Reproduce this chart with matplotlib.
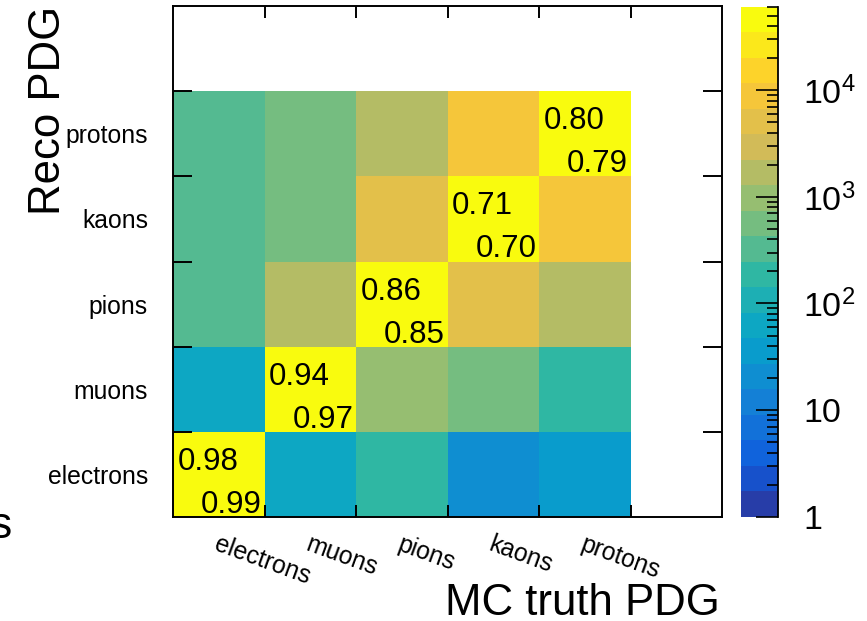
import numpy as np
import matplotlib
matplotlib.use('Agg')
import matplotlib.pyplot as plt
import matplotlib.transforms as mtransforms
from matplotlib.colors import LinearSegmentedColormap, ListedColormap, BoundaryNorm
from matplotlib.ticker import FixedLocator, FixedFormatter, LogLocator, NullFormatter

plt.rcParams['font.family'] = 'Liberation Sans'
plt.rcParams['mathtext.fontset'] = 'custom'
plt.rcParams['mathtext.rm'] = 'Liberation Sans'
plt.rcParams['mathtext.it'] = 'Liberation Sans:italic'

# particle species, rows = reco, columns = MC truth
species = ['electrons', 'muons', 'pions', 'kaons', 'protons']
counts = np.array([
    [60000,    62,   190,    21,    36],   # reco electrons
    [   60, 48000,   980,   560,   185],   # reco muons
    [  320,  1700, 55000,  5100,  1650],   # reco pions
    [  330,   570,  5000, 42000,  8800],   # reco kaons
    [  325,   560,  1700,  8900, 45000],   # reco protons
])
eff_top = [0.98, 0.94, 0.86, 0.71, 0.80]
eff_bottom = [0.99, 0.97, 0.85, 0.70, 0.79]
zmin, zmax = 1.0, 60800.0
ncont = 20

# ROOT kBird palette, 20 contour bands
stops = [0.0, 0.125, 0.25, 0.375, 0.5, 0.625, 0.75, 0.875, 1.0]
red = [0.2082, 0.0592, 0.0780, 0.0232, 0.1802, 0.5301, 0.8186, 0.9956, 0.9764]
green = [0.1664, 0.3599, 0.5041, 0.6419, 0.7178, 0.7492, 0.7328, 0.7862, 0.9832]
blue = [0.5293, 0.8684, 0.8385, 0.7914, 0.6425, 0.4662, 0.3499, 0.1968, 0.0539]
bird = LinearSegmentedColormap.from_list(
    'bird', list(zip(stops, zip(red, green, blue))))
band_cols = [bird(int((i + 0.99) * 255 / ncont) / 254.) for i in range(ncont)]
bands = ListedColormap(band_cols)
levels = np.logspace(np.log10(zmin), np.log10(zmax), ncont + 1)

fig = plt.figure(figsize=(8.67, 6.21), dpi=100)
ax = fig.add_axes([173/867, 104/621, 549/867, 511/621])
cax = fig.add_axes([741/867, 104.3/621, 37/867, 510/621])

n = len(species)
edges = np.arange(n + 1)
ax.pcolormesh(edges, edges, counts, cmap=bands, norm=BoundaryNorm(levels, ncont))
ax.set_xlim(0, n + 1)
ax.set_ylim(0, n + 1)

for s in ax.spines.values():
    s.set_linewidth(1.4)
ax.set_xticks(range(1, n + 1))
ax.set_yticks(range(1, n + 1))
ax.tick_params(which='major', direction='in', top=True, right=True,
               labelbottom=False, labelleft=False, width=1.4)
ax.tick_params(axis='x', which='major', length=8.6)
ax.tick_params(axis='y', which='major', length=13.5)
ax.yaxis.set_minor_locator(FixedLocator(np.arange(n) + 0.5))
ax.yaxis.set_minor_formatter(FixedFormatter(species))
ax.tick_params(axis='y', which='minor', length=0, pad=18, labelsize=17.8)
ax.xaxis.set_minor_locator(FixedLocator([]))

trans = mtransforms.blended_transform_factory(ax.transData, ax.transAxes)
for i, name in enumerate(species):
    ax.text(i + 0.5 + 0.01, -0.03, name, transform=trans, rotation=-20,
            rotation_mode='anchor', ha='left', va='top', fontsize=17.8)

for i in range(n):
    ax.text(i + 0.05, i + 0.553, f'{eff_top[i]:.2f}', ha='left',
            va='baseline', fontsize=22.5)
    ax.text(i + 1 - 0.03, i + 0.047, f'{eff_bottom[i]:.2f}', ha='right',
            va='baseline', fontsize=22.5)

ax.text(0.995, -(615 - 517) / 511, 'MC truth PDG', transform=ax.transAxes,
        ha='right', va='baseline', fontsize=31.5)
ax.text((60 - 173) / 549, 1.0, 'Reco PDG', transform=ax.transAxes,
        rotation=90, rotation_mode='anchor', ha='right', va='baseline',
        fontsize=31.5)
fig.text(-10/867, (621 - 538) / 621, 's', fontsize=32, ha='left', va='baseline')

# palette axis
cax.pcolormesh([0, 1], levels, np.arange(ncont).reshape(ncont, 1),
               cmap=bands, vmin=-0.5, vmax=ncont - 0.5)
cax.set_yscale('log')
cax.set_ylim(zmin, zmax)
cax.set_xlim(0, 1)
cax.set_xticks([])
for side in ['left', 'top', 'bottom']:
    cax.spines[side].set_visible(False)
cax.spines['right'].set_linewidth(1.3)
cax.yaxis.set_major_locator(FixedLocator([1, 10, 100, 1000, 10000]))
cax.yaxis.set_major_formatter(FixedFormatter(
    ['1', '10', '$10^{2}$', '$10^{3}$', '$10^{4}$']))
cax.yaxis.set_minor_locator(LogLocator(base=10, subs=np.arange(2, 10)))
cax.yaxis.set_minor_formatter(NullFormatter())
cax.tick_params(which='both', direction='in', left=False, right=True,
                labelleft=False, labelright=True, width=1.2)
cax.tick_params(which='major', length=15.8, pad=18, labelsize=24.5)
cax.tick_params(which='minor', length=7.9)

fig.savefig('out.png', dpi=100)
